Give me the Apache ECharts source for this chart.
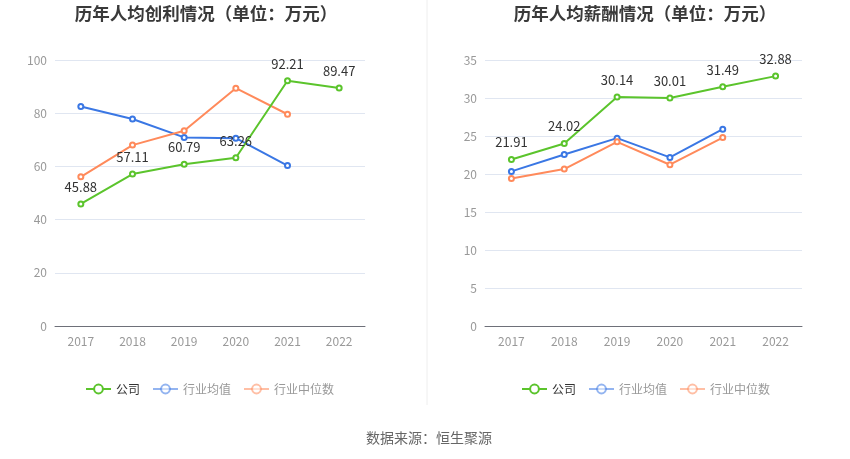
<!DOCTYPE html>
<html><head><meta charset="utf-8">
<script src="https://cdn.jsdelivr.net/npm/echarts@6/dist/echarts.min.js"></script>
<style>html,body{margin:0;padding:0;background:#fff}#c{width:850px;height:459px}</style>
</head><body><div id="c"></div>
<script>
const years = ['2017','2018','2019','2020','2021','2022'];
const profitCompany = [45.88, 57.11, 60.79, 63.26, 92.21, 89.47];
const profitIndustryMean = [82.5, 77.8, 70.9, 70.6, 60.3];
const profitIndustryMedian = [56.1, 68.0, 73.4, 89.4, 79.6];
const salaryCompany = [21.91, 24.02, 30.14, 30.01, 31.49, 32.88];
const salaryIndustryMean = [20.34, 22.57, 24.72, 22.18, 25.9];
const salaryIndustryMedian = [19.42, 20.65, 24.23, 21.22, 24.8];
const seriesNames = ['公司', '行业均值', '行业中位数'];
const titles = ['历年人均创利情况（单位：万元）', '历年人均薪酬情况（单位：万元）'];

const C_GREEN = '#5bc42c', C_BLUE = '#3a77e4', C_ORANGE = '#ff8a5b';
const font = '"Noto Sans CJK SC", sans-serif';

function lineSeries(name, data, color, xi, labels) {
  return {
    name: name, type: 'line', xAxisIndex: xi, yAxisIndex: xi, data: data,
    symbol: 'emptyCircle', symbolSize: 5, showSymbol: true,
    lineStyle: {color: color, width: 2}, itemStyle: {color: color, borderWidth: 1.5},
    label: labels ? {show: true, position: 'top', distance: 7, color: '#333', fontSize: 13, fontFamily: font} : {show: false},
    z: labels ? 3 : 2
  };
}
function legendData() {
  return [
    {name: seriesNames[0], textStyle: {color: '#333'}},
    {name: seriesNames[1], textStyle: {color: '#999'}, itemStyle: {opacity: 0.55}, lineStyle: {opacity: 0.55}},
    {name: seriesNames[2], textStyle: {color: '#999'}, itemStyle: {opacity: 0.55}, lineStyle: {opacity: 0.55}}
  ];
}
const axisLabel = {color: '#999', fontSize: 12, fontFamily: font};
const chart = echarts.init(document.getElementById('c'), null, {renderer: 'canvas'});
const legendCommon = {top: 378, itemWidth: 25, itemHeight: 11, itemGap: 12, textStyle: {fontSize: 12, fontFamily: font}, selectedMode: false};
chart.setOption({
  animation: false,
  color: [C_GREEN, C_BLUE, C_ORANGE],
  title: [
    {text: titles[0], left: 201, top: 0, textAlign: 'center', textStyle: {fontSize: 17.5, fontWeight: 'bold', color: '#3a3a3a', fontFamily: font}},
    {text: titles[1], left: 640, top: 0, textAlign: 'center', textStyle: {fontSize: 17.5, fontWeight: 'bold', color: '#3a3a3a', fontFamily: font}},
    {text: '数据来源：恒生聚源', left: 424, top: 426, textAlign: 'center', textStyle: {fontSize: 14, fontWeight: 'normal', color: '#666', fontFamily: font}}
  ],
  graphic: [{type: 'line', shape: {x1: 427, y1: 0, x2: 427, y2: 405}, style: {stroke: '#eee', lineWidth: 1}}],
  legend: [
    Object.assign({left: 80, data: legendData()}, legendCommon),
    Object.assign({left: 516, data: legendData()}, legendCommon)
  ],
  grid: [
    {left: 55, right: 485, top: 60, bottom: 133},
    {left: 485, right: 48, top: 60, bottom: 133}
  ],
  xAxis: [0, 1].map(i => ({
    gridIndex: i, type: 'category', data: years, boundaryGap: true,
    axisLine: {lineStyle: {color: '#6E7079'}}, axisTick: {show: false},
    axisLabel: Object.assign({margin: 9}, axisLabel)
  })),
  yAxis: [
    {gridIndex: 0, type: 'value', min: 0, max: 100, interval: 20, axisLabel: Object.assign({margin: 8}, axisLabel), splitLine: {lineStyle: {color: '#E0E6F1'}}, axisLine: {show: false}},
    {gridIndex: 1, type: 'value', min: 0, max: 35, interval: 5, axisLabel: Object.assign({margin: 8}, axisLabel), splitLine: {lineStyle: {color: '#E0E6F1'}}, axisLine: {show: false}}
  ],
  series: [
    lineSeries(seriesNames[0], profitCompany, C_GREEN, 0, true),
    lineSeries(seriesNames[1], profitIndustryMean, C_BLUE, 0, false),
    lineSeries(seriesNames[2], profitIndustryMedian, C_ORANGE, 0, false),
    lineSeries(seriesNames[0], salaryCompany, C_GREEN, 1, true),
    lineSeries(seriesNames[1], salaryIndustryMean, C_BLUE, 1, false),
    lineSeries(seriesNames[2], salaryIndustryMedian, C_ORANGE, 1, false)
  ]
});
</script></body></html>
